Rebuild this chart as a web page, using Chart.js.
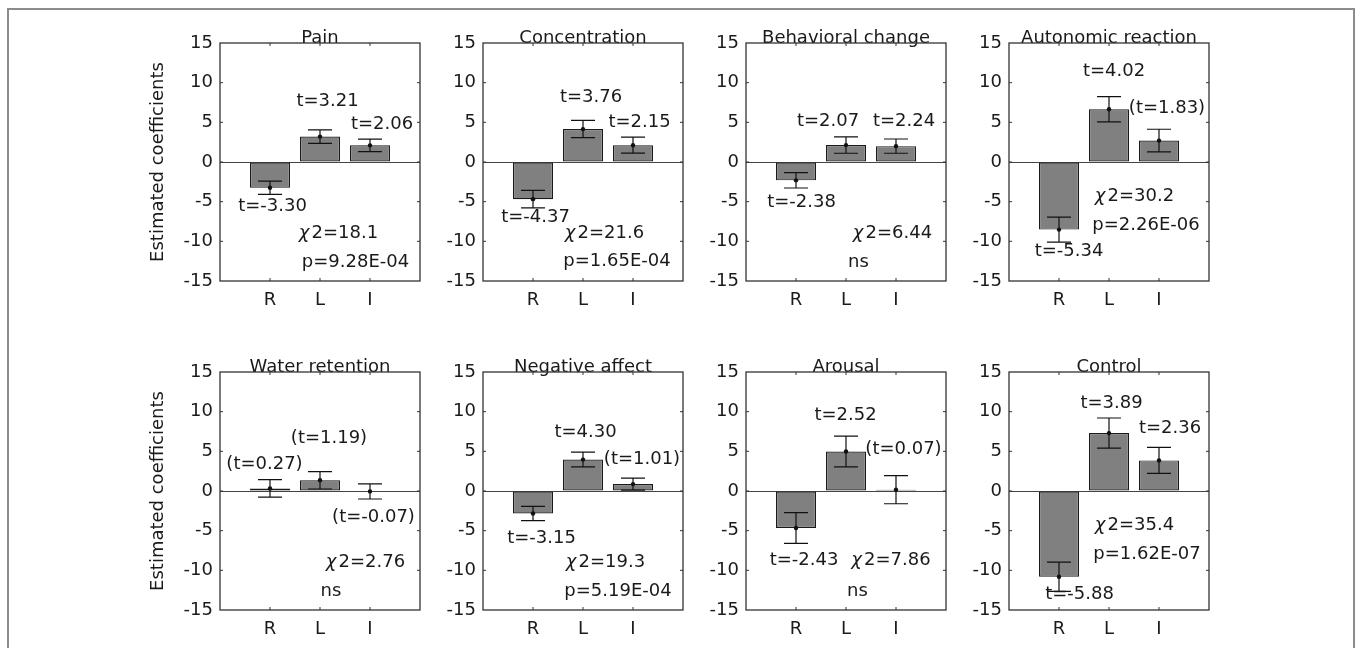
<!DOCTYPE html>
<html>
<head>
<meta charset="utf-8">
<script src="https://cdn.jsdelivr.net/npm/chart.js@4"></script>
<style>
  body { margin: 0; background: #fff; width: 1359px; height: 648px; overflow: hidden; position: relative; }
  .frame { position: absolute; left: 7px; top: 8px; width: 1344px; height: 700px; border: 2px solid #8c8c8c; }
  .panel { position: absolute; width: 295px; height: 318px; }
</style>
</head>
<body>
<div class="frame"></div>
<div id="panels"></div>
<script>
const categories = ['R', 'L', 'I'];
const panelTitles = ['Pain', 'Concentration', 'Behavioral change', 'Autonomic reaction',
                     'Water retention', 'Negative affect', 'Arousal', 'Control'];

// estimated coefficients and error bar half-lengths, one entry per panel
const coefR = [-3.25, -4.68, -2.31, -8.52, 0.33, -2.84, -4.66, -10.8];
const coefL = [3.2, 4.15, 2.13, 6.65, 1.35, 3.96, 4.97, 7.3];
const coefI = [2.1, 2.12, 2.0, 2.7, -0.05, 0.87, 0.16, 3.86];
const errR = [0.84, 1.1, 0.97, 1.58, 1.1, 0.89, 1.94, 1.84];
const errL = [0.85, 1.09, 1.03, 1.6, 1.1, 0.93, 1.94, 1.9];
const errI = [0.78, 1.01, 0.9, 1.43, 0.96, 0.76, 1.77, 1.63];

const tR = ['t=-3.30', 't=-4.37', 't=-2.38', 't=-5.34', '(t=0.27)', 't=-3.15', 't=-2.43', 't=-5.88'];
const tL = ['t=3.21', 't=3.76', 't=2.07', 't=4.02', '(t=1.19)', 't=4.30', 't=2.52', 't=3.89'];
const tI = ['t=2.06', 't=2.15', 't=2.24', '(t=1.83)', '(t=-0.07)', '(t=1.01)', '(t=0.07)', 't=2.36'];
const chi2Text = ['χ2=18.1', 'χ2=21.6', 'χ2=6.44', 'χ2=30.2', 'χ2=2.76', 'χ2=19.3', 'χ2=7.86', 'χ2=35.4'];
const pText = ['p=9.28E-04', 'p=1.65E-04', 'ns', 'p=2.26E-06', 'ns', 'p=5.19E-04', 'ns', 'p=1.62E-07'];

const yMin = -15, yMax = 15, yStep = 5;

// where each text label sits, in axis units (x: 1=R, 2=L, 3=I)
const tPosR = [[1.05, -5.6], [1.05, -7.0], [1.11, -5.1], [1.2, -11.3], [0.89, 3.3], [1.17, -5.95], [1.16, -8.75], [1.41, -13.05]];
const tPosL = [[2.15, 7.65], [2.16, 8.1], [1.64, 5.15], [2.1, 11.45], [2.18, 6.7], [2.05, 7.4], [1.99, 9.6], [2.05, 11.0]];
const tPosI = [[3.24, 4.75], [3.13, 4.95], [3.16, 5.15], [3.16, 6.75], [3.07, -3.3], [3.18, 3.95], [3.15, 5.25], [3.22, 7.85]];
const chi2Pos = [[2.37, -9.05], [2.43, -8.95], [2.93, -8.95], [2.51, -4.35], [2.91, -8.95], [2.45, -8.95], [2.9, -8.75], [2.51, -4.35]];
const pPos = [[2.71, -12.6], [2.68, -12.55], [2.25, -12.65], [2.74, -8.0], [2.22, -12.7], [2.7, -12.7], [2.23, -12.7], [2.76, -7.95]];

const colLefts = [220, 483, 746, 1009];
const rowTops = [43, 372];
const FAMILY = "'DejaVu Sans', sans-serif";
const INK = '#1a1a1a';

Chart.defaults.font.family = FAMILY;
Chart.defaults.color = INK;

// axes box with inward tick marks, like MATLAB's "box on"
const axesBox = {
  id: 'axesBox',
  afterDatasetsDraw(chart) {
    const {ctx, chartArea: a, scales: {x, y}} = chart;
    ctx.save();
    ctx.strokeStyle = '#333';
    ctx.lineWidth = 1.3;
    ctx.strokeRect(a.left, a.top, a.right - a.left, a.bottom - a.top);
    ctx.lineWidth = 1;
    ctx.beginPath();
    y.ticks.forEach(t => {
      if (t.value === yMin || t.value === yMax) return;
      const py = y.getPixelForValue(t.value);
      ctx.moveTo(a.left, py); ctx.lineTo(a.left + 3, py);
      ctx.moveTo(a.right, py); ctx.lineTo(a.right - 3, py);
    });
    categories.forEach((c, i) => {
      const px = x.getPixelForValue(i + 1);
      ctx.moveTo(px, a.top); ctx.lineTo(px, a.top + 3);
      ctx.moveTo(px, a.bottom); ctx.lineTo(px, a.bottom - 3);
    });
    ctx.stroke();
    ctx.restore();
  }
};

const errorBars = {
  id: 'errorBars',
  afterDatasetsDraw(chart, args, opts) {
    const {ctx, scales: {x, y}} = chart;
    ctx.save();
    ctx.strokeStyle = '#111';
    ctx.fillStyle = '#111';
    ctx.lineWidth = 1.2;
    opts.values.forEach((v, i) => {
      const px = x.getPixelForValue(i + 1);
      const cap = x.getPixelForValue(i + 1.24) - px;
      const hi = y.getPixelForValue(v + opts.errors[i]);
      const lo = y.getPixelForValue(v - opts.errors[i]);
      ctx.beginPath();
      ctx.moveTo(px, hi); ctx.lineTo(px, lo);
      ctx.moveTo(px - cap, hi); ctx.lineTo(px + cap, hi);
      ctx.moveTo(px - cap, lo); ctx.lineTo(px + cap, lo);
      ctx.stroke();
      ctx.beginPath();
      ctx.arc(px, y.getPixelForValue(v), 2.2, 0, Math.PI * 2);
      ctx.fill();
    });
    ctx.restore();
  }
};

function drawLabel(ctx, text, x, y) {
  const normal = `18px ${FAMILY}`;
  if (text.startsWith('χ')) {
    const italic = `italic 18px ${FAMILY}`;
    ctx.font = italic;
    const w1 = ctx.measureText('χ').width + 2;
    ctx.font = normal;
    const rest = text.slice(1);
    const w2 = ctx.measureText(rest).width;
    const start = x - (w1 + w2) / 2;
    ctx.textAlign = 'left';
    ctx.font = italic;
    ctx.fillText('χ', start, y);
    ctx.font = normal;
    ctx.fillText(rest, start + w1, y);
  } else {
    ctx.font = normal;
    ctx.textAlign = 'center';
    ctx.fillText(text, x, y);
  }
}

const annotations = {
  id: 'annotations',
  afterDatasetsDraw(chart, args, opts) {
    const {ctx, scales: {x, y}} = chart;
    ctx.save();
    ctx.fillStyle = INK;
    ctx.textBaseline = 'middle';
    opts.labels.forEach(l => {
      drawLabel(ctx, l.text, x.getPixelForValue(l.at[0]), y.getPixelForValue(l.at[1]));
    });
    ctx.restore();
  }
};

const holder = document.getElementById('panels');

panelTitles.forEach((title, p) => {
  const col = p % 4, row = Math.floor(p / 4);
  const div = document.createElement('div');
  div.className = 'panel';
  div.style.left = (colLefts[col] - 80) + 'px';
  div.style.top = (rowTops[row] - 40) + 'px';
  const canvas = document.createElement('canvas');
  div.appendChild(canvas);
  holder.appendChild(div);

  const values = [coefR[p], coefL[p], coefI[p]];
  const errors = [errR[p], errL[p], errI[p]];
  const labels = [
    {text: tR[p], at: tPosR[p]},
    {text: tL[p], at: tPosL[p]},
    {text: tI[p], at: tPosI[p]},
    {text: chi2Text[p], at: chi2Pos[p]},
    {text: pText[p], at: pPos[p]}
  ];

  new Chart(canvas, {
    type: 'bar',
    data: {
      datasets: [{
        data: categories.map((c, i) => ({x: i + 1, y: values[i]})),
        backgroundColor: '#808080',
        borderColor: '#1a1a1a',
        borderWidth: 1.2,
        borderSkipped: false,
        barPercentage: 0.8,
        categoryPercentage: 1
      }]
    },
    options: {
      responsive: true,
      maintainAspectRatio: false,
      animation: false,
      layout: { padding: { right: 15 } },
      plugins: {
        legend: { display: false },
        tooltip: { enabled: false },
        title: {
          display: true,
          text: title,
          fullSize: false,
          color: INK,
          font: { size: 18, weight: 'normal' },
          padding: { top: 24.4, bottom: -6 }
        },
        errorBars: { values, errors },
        annotations: { labels }
      },
      scales: {
        x: {
          type: 'linear',
          min: 0,
          max: 4,
          offset: false,
          grid: { display: false, drawTicks: false },
          border: { display: false },
          ticks: {
            stepSize: 1,
            autoSkip: false,
            maxRotation: 0,
            padding: 9,
            font: { size: 18 },
            callback: v => categories[v - 1] || ''
          },
          afterFit: s => { s.height = 40; }
        },
        y: {
          min: yMin,
          max: yMax,
          grid: {
            drawTicks: false,
            lineWidth: 1,
            color: c => c.tick && c.tick.value === 0 ? '#444' : 'rgba(0,0,0,0)'
          },
          border: { display: false },
          ticks: { stepSize: yStep, padding: 7, font: { size: 18 } },
          title: {
            display: col === 0,
            text: 'Estimated coefficients',
            font: { size: 18 },
            padding: { top: 8, bottom: 0 }
          },
          afterFit: s => { s.width = 80; }
        }
      }
    },
    plugins: [errorBars, axesBox, annotations]
  });
});
</script>
</body>
</html>
